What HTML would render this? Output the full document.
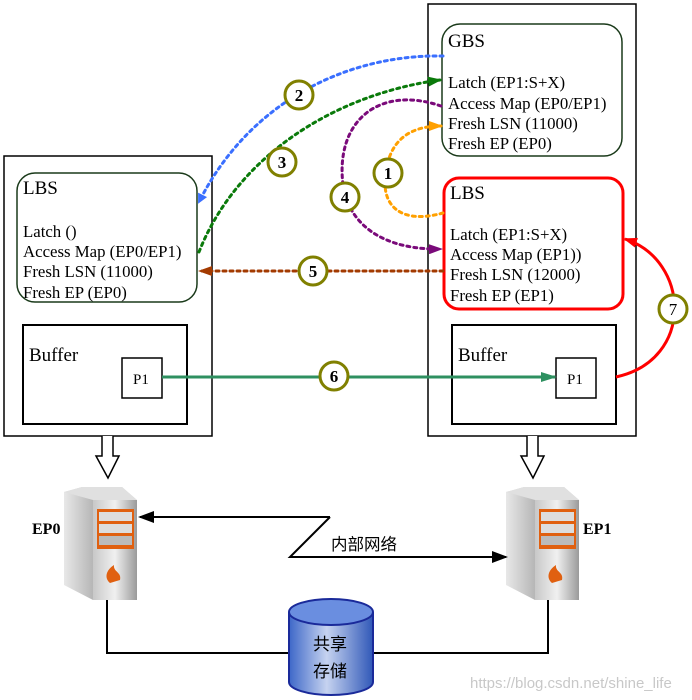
<!DOCTYPE html>
<html><head><meta charset="utf-8"><style>
html,body{margin:0;padding:0;background:#fff;}
svg{display:block;}
text{font-family:"Liberation Serif",serif;font-size:16.8px;fill:#000;}
.t{font-size:19px;}
.n{font-size:17px;font-weight:bold;text-anchor:middle;}
</style></head><body>
<svg width="692" height="700" viewBox="0 0 692 700" xmlns="http://www.w3.org/2000/svg">
<defs>
<linearGradient id="sv" x1="0" x2="1"><stop offset="0" stop-color="#e8e8e8"/><stop offset="0.5" stop-color="#a9a9a9"/><stop offset="1" stop-color="#d8d8d8"/></linearGradient>
<linearGradient id="sf" x1="0" x2="1"><stop offset="0" stop-color="#c8c8c8"/><stop offset="0.5" stop-color="#f0f0f0"/><stop offset="1" stop-color="#9a9a9a"/></linearGradient>
<linearGradient id="cy" x1="0" x2="1"><stop offset="0" stop-color="#3d67c8"/><stop offset="0.45" stop-color="#c6d3f0"/><stop offset="1" stop-color="#3058b8"/></linearGradient>
<marker id="mb" markerWidth="10" markerHeight="10" refX="8" refY="5" orient="auto" markerUnits="userSpaceOnUse"><path d="M0,0 L10,5 L0,10z" fill="#3a6fff"/></marker>
<marker id="mg" markerWidth="14" markerHeight="10" refX="12" refY="5" orient="auto" markerUnits="userSpaceOnUse"><path d="M0,0 L14,5 L0,10z" fill="#0a7a0a"/></marker>
<marker id="mp" markerWidth="14" markerHeight="10" refX="12" refY="5" orient="auto" markerUnits="userSpaceOnUse"><path d="M0,0 L14,5 L0,10z" fill="#7a0a7a"/></marker>
<marker id="mo" markerWidth="14" markerHeight="10" refX="12" refY="5" orient="auto" markerUnits="userSpaceOnUse"><path d="M0,0 L14,5 L0,10z" fill="#ffa000"/></marker>
<marker id="mr" markerWidth="14" markerHeight="10" refX="12" refY="5" orient="auto" markerUnits="userSpaceOnUse"><path d="M0,0 L14,5 L0,10z" fill="#a33a00"/></marker>
<marker id="ms" markerWidth="16" markerHeight="10" refX="14" refY="5" orient="auto" markerUnits="userSpaceOnUse"><path d="M0,0 L16,5 L0,10z" fill="#2e9060"/></marker>
<marker id="mR" markerWidth="14" markerHeight="10" refX="12" refY="5" orient="auto" markerUnits="userSpaceOnUse"><path d="M0,0 L14,5 L0,10z" fill="#ff0000"/></marker>
<marker id="mk" markerWidth="16" markerHeight="12" refX="14" refY="6" orient="auto" markerUnits="userSpaceOnUse"><path d="M0,0 L16,6 L0,12z" fill="#000"/></marker>
</defs>

<rect x="4" y="156" width="208" height="280" fill="#fff" stroke="#000" stroke-width="1.5"/>
<rect x="428" y="4" width="208" height="432" fill="#fff" stroke="#000" stroke-width="1.5"/>

<rect x="17" y="173" width="180" height="129" rx="18" fill="#fff" stroke="#1a3a1a" stroke-width="1.5"/>
<text class="t" x="23" y="194">LBS</text>
<text x="23" y="237">Latch ()</text>
<text x="23" y="257">Access Map (EP0/EP1)</text>
<text x="23" y="277">Fresh LSN (11000)</text>
<text x="23" y="298">Fresh EP (EP0)</text>

<rect x="442" y="24" width="180" height="132" rx="18" fill="#fff" stroke="#1a3a1a" stroke-width="1.5"/>
<text class="t" x="448" y="47">GBS</text>
<text x="448" y="88">Latch (EP1:S+X)</text>
<text x="448" y="109">Access Map (EP0/EP1)</text>
<text x="448" y="129">Fresh LSN (11000)</text>
<text x="448" y="149">Fresh EP (EP0)</text>

<rect x="444" y="178" width="179" height="131" rx="15" fill="#fff" stroke="#ff0000" stroke-width="3"/>
<text class="t" x="450" y="199">LBS</text>
<text x="450" y="240">Latch  (EP1:S+X)</text>
<text x="450" y="260">Access Map (EP1))</text>
<text x="450" y="280">Fresh LSN (12000)</text>
<text x="450" y="301">Fresh EP (EP1)</text>

<rect x="23" y="325" width="164" height="99" fill="#fff" stroke="#000" stroke-width="2"/>
<text class="t" x="29" y="361">Buffer</text>
<rect x="122" y="358" width="40" height="40" fill="#fff" stroke="#000" stroke-width="1.5"/>
<text x="133" y="384" style="font-size:15px">P1</text>
<rect x="452" y="325" width="164" height="99" fill="#fff" stroke="#000" stroke-width="2"/>
<text class="t" x="458" y="361">Buffer</text>
<rect x="556" y="358" width="40" height="40" fill="#fff" stroke="#000" stroke-width="1.5"/>
<text x="567" y="384" style="font-size:15px">P1</text>

<g fill="none" stroke-width="3" stroke-dasharray="3,4" stroke-linecap="round">
<path d="M443,56 C350,54 250,100 199,202" stroke="#3a6fff" marker-end="url(#mb)"/>
<path d="M199,252 C235,160 330,95 440,80" stroke="#0a7a0a" marker-end="url(#mg)"/>
<path d="M441,106 C380,85 335,120 343,185 C350,230 390,250 441,249" stroke="#7a0a7a" marker-end="url(#mp)"/>
<path d="M443,213 C400,225 380,205 386,172 C390,140 410,126 441,126" stroke="#ffa000" marker-end="url(#mo)"/>
<path d="M443,271 L200,271" stroke="#a33a00" marker-end="url(#mr)"/>
</g>
<path d="M162,377 L555,377" stroke="#2e9060" stroke-width="3" fill="none" marker-end="url(#ms)"/>
<path d="M616,377 C695,360 690,260 625,239" stroke="#ff0000" stroke-width="3" fill="none" marker-end="url(#mR)"/>

<g fill="#fff" stroke="#808000" stroke-width="3">
<circle cx="388" cy="173" r="14"/><circle cx="299" cy="95" r="14"/><circle cx="282" cy="162" r="14"/>
<circle cx="345" cy="197" r="14"/><circle cx="313" cy="271" r="14"/><circle cx="334" cy="376" r="14"/>
<circle cx="673" cy="309" r="14"/>
</g>
<text class="n" x="388" y="179">1</text><text class="n" x="299" y="101">2</text><text class="n" x="282" y="168">3</text>
<text class="n" x="345" y="203">4</text><text class="n" x="313" y="277">5</text><text class="n" x="334" y="382">6</text>
<text class="n" x="673" y="315" style="font-weight:normal">7</text>

<path d="M102,436 L102,456 L96,456 L108,478 L119,456 L113,456 L113,436" fill="#fff" stroke="#000" stroke-width="1.5"/>
<path d="M527,436 L527,456 L521,456 L533,478 L544,456 L538,456 L538,436" fill="#fff" stroke="#000" stroke-width="1.5"/>

<path d="M107,600 L107,653 L290,653 M372,653 L548,653 L548,600" fill="none" stroke="#000" stroke-width="2"/>

<g id="s0">
<polygon points="64,492 82,487 122,487 137,500 137,600 93,600 64,585" fill="url(#sv)"/>
<polygon points="93,500 137,500 137,600 93,600" fill="url(#sf)"/>
<polygon points="64,492 82,487 122,487 137,500 93,500" fill="#e0e0e0"/>
<rect x="97" y="509" width="37" height="40" fill="#e06010"/>
<rect x="99" y="512" width="33" height="9" fill="#ddd"/><rect x="99" y="524" width="33" height="9" fill="#ddd"/><rect x="99" y="536" width="33" height="9" fill="#bbb"/>
<path d="M110,583 C104,578 106,570 114,565 C113,572 122,572 120,580 Z" fill="#e06010"/>
</g>
<use href="#s0" transform="translate(442,0)"/>
<text x="32" y="534" style="font-weight:bold;font-size:16px">EP0</text>
<text x="583" y="534" style="font-weight:bold;font-size:16px">EP1</text>

<path d="M330,517 L140,517" stroke="#000" stroke-width="2" fill="none" marker-end="url(#mk)"/>
<path d="M330,517 L290,557 L506,557" stroke="#000" stroke-width="2" fill="none" marker-end="url(#mk)"/>
<text x="331" y="550" style='font-family:"Noto Sans CJK SC",sans-serif;font-size:16.5px'>内部网络</text>

<path d="M289,612 L289,682 A42,13 0 0 0 373,682 L373,612" fill="url(#cy)" stroke="#1a2a9a" stroke-width="2"/>
<ellipse cx="331" cy="612" rx="42" ry="13" fill="#6a8ee0" stroke="#1a2a9a" stroke-width="2"/>
<text x="313" y="650" style='font-family:"Noto Sans CJK SC",sans-serif;font-size:17px'>共享</text>
<text x="313" y="677" style='font-family:"Noto Sans CJK SC",sans-serif;font-size:17px'>存储</text>

<text x="470" y="688" style='font-family:"Liberation Sans",sans-serif;font-size:15px;fill:#c8c8c8'>https://blog.csdn.net/shine_life</text>
</svg>
</body></html>
